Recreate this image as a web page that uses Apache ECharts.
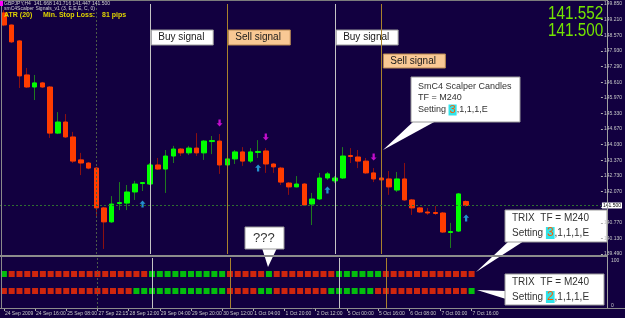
<!DOCTYPE html>
<html>
<head>
<meta charset="utf-8">
<script src="https://cdn.jsdelivr.net/npm/echarts@6/dist/echarts.min.js"></script>
<style>
html, body { margin: 0; padding: 0; background: #120040; }
#chart { width: 625px; height: 318px; }
</style>
</head>
<body>
<div id="chart"></div>
<script>
// GBPJPY H4 candles
const opens = [149.48,148.98,148.32,146.91,146.41,146.58,146.41,144.50,144.96,144.34,
  143.39,143.26,143.05,141.40,140.82,141.58,141.60,142.06,142.41,142.39,
  143.18,143.01,143.55,143.84,143.68,143.88,143.68,144.15,144.17,143.18,
  143.43,143.72,143.34,143.70,143.76,143.22,143.05,142.43,142.27,142.39,
  141.56,141.77,142.64,142.52,142.64,143.57,143.51,143.34,142.85,142.64,
  142.60,142.14,142.60,141.73,141.40,141.23,141.21,141.19,140.38,140.44,
  141.668];
const highs = [149.60,149.00,148.35,147.20,146.91,146.62,146.45,145.37,145.29,144.55,
  143.68,143.30,143.10,141.44,141.89,142.47,142.35,142.52,142.47,143.26,
  143.47,143.80,143.97,143.88,143.97,144.50,144.21,144.38,144.46,143.68,
  143.80,143.92,143.88,144.21,143.88,143.26,143.10,142.47,142.72,142.43,
  142.02,142.85,142.89,142.72,143.92,143.88,143.80,143.47,143.05,142.93,
  142.93,142.89,143.26,141.77,141.44,141.40,141.48,141.23,140.78,142.02,
  141.716];
const lows = [148.93,148.23,146.37,146.37,145.87,146.37,144.30,144.46,144.30,143.26,
  142.76,143.00,141.02,139.70,140.78,141.31,141.31,141.73,142.10,142.35,
  142.97,142.02,143.26,143.55,143.59,143.55,143.39,143.63,142.81,142.89,
  143.22,143.14,143.26,143.47,142.85,142.85,142.35,141.94,142.25,141.48,
  140.69,141.73,142.56,142.43,142.60,143.26,143.05,142.81,142.47,141.98,
  141.94,142.06,141.69,141.11,141.19,141.11,141.11,140.36,139.74,140.40,
  141.447];
const closes = [148.98,148.28,146.87,146.41,146.58,146.41,144.50,144.96,144.34,143.34,
  143.26,143.05,141.40,140.82,141.56,141.62,142.06,142.39,142.45,143.18,
  143.01,143.55,143.84,143.68,143.88,143.68,144.17,144.19,143.18,143.43,
  143.72,143.34,143.72,143.74,143.22,143.10,142.47,142.27,142.39,141.52,
  141.77,142.64,142.81,142.64,143.55,143.53,143.34,142.85,142.60,142.56,
  142.27,142.60,141.73,141.40,141.23,141.19,141.17,140.40,140.42,141.98,
  141.500];

// TRIX colour rows: 1 = up (green), 0 = down (red)
const trix3 = [1,0,0,0,0,0,0,0,0,0, 0,0,0,0,0,0,0,0,0,1, 1,1,1,1,1,1,1,1,1,0,
  0,0,0,0,1,0,0,0,0,0, 0,0,0,1,1,1,1,1,1,0, 0,0,0,0,0,0,0,0,0,0, 0];
const trix2 = [0,0,0,0,0,0,0,0,0,0, 0,0,0,0,0,0,0,1,1,1, 1,1,1,1,1,1,1,1,1,0,
  0,0,0,1,1,0,0,0,0,0, 0,0,1,1,1,1,1,1,0,0, 0,0,0,0,0,0,0,0,0,0, 1];

// scalper arrows
const sellArrowIdx = [28, 34, 48];
const sellArrowPrice = [144.92, 144.34, 143.51];
const buyArrowIdx = [18, 33, 42, 60];
const buyArrowPrice = [141.56, 143.05, 142.14, 140.98];

// vertical signal lines
const buyLineIdx = [19, 43];
const sellLineIdx = [29, 49];
const weekSepIdx = [12];

const dateLabels = ['24 Sep 2009','24 Sep 16:00','25 Sep 08:00','27 Sep 22:15','28 Sep 12:00',
  '29 Sep 04:00','29 Sep 20:00','30 Sep 12:00','1 Oct 04:00','1 Oct 20:00','2 Oct 12:00',
  '5 Oct 00:00','5 Oct 16:00','6 Oct 08:00','7 Oct 00:00','7 Oct 16:00'];
const priceTicks = ['139.490','140.130','140.770','','142.070','142.730','143.370','144.030',
  '144.670','145.330','145.970','146.610','147.290','147.930','148.570','149.210','149.850'];
const bidPrice = 141.500;
const askPrice = 141.552;

const yMin = 139.49, yStep = 0.6475, yMax = 149.85;
const slotCount = 78;
const slots = [];
for (let i = 0; i < slotCount; i++) slots.push(String(i));

const wickData = opens.map((o, i) => [o, closes[i], lows[i], highs[i]]);
const bodyData = opens.map((o, i) => [o, closes[i], Math.min(o, closes[i]), Math.max(o, closes[i])]);
const row3 = 68, row2 = 34;
const FONT = 'Liberation Sans';

const vLine = (idx, color, type) => ({ xAxis: idx, lineStyle: { color: color, type: type, width: 1 } });
const vLines = [].concat(
  weekSepIdx.map(i => vLine(i, '#4c5a48', [2, 2])),
  buyLineIdx.map(i => vLine(i, '#c4c4c4', 'solid')),
  sellLineIdx.map(i => vLine(i, '#a8822c', 'solid'))
);

const chart = echarts.init(document.getElementById('chart'));
const option = {
  backgroundColor: '#120040',
  animation: false,
  grid: [
    { left: -3, right: 17, top: 4, bottom: 64 },
    { left: -3, right: 17, top: 258, bottom: 10 }
  ],
  xAxis: [
    { type: 'category', data: slots, gridIndex: 0, show: false },
    {
      type: 'category', data: slots, gridIndex: 1,
      axisLine: { show: false },
      axisTick: { show: true, alignWithLabel: true, length: 3, lineStyle: { color: '#b0b0b0' },
        interval: (i) => i % 4 === 0 && i <= 60 },
      axisLabel: {
        interval: (i) => i % 4 === 0 && i <= 60,
        formatter: (v, i) => dateLabels[i / 4] || '',
        align: 'left', margin: 3, fontSize: 5, color: '#c8c8c8', fontFamily: FONT,
        padding: [0, 0, 0, 1]
      }
    }
  ],
  yAxis: [
    {
      type: 'value', gridIndex: 0, position: 'right', min: yMin, max: yMax, interval: yStep,
      axisLine: { show: false },
      axisTick: { show: true, length: 2, lineStyle: { color: '#b0b0b0' } },
      splitLine: { show: false },
      axisLabel: {
        margin: 3, fontSize: 5, color: '#c8c8c8', fontFamily: FONT,
        formatter: (v) => priceTicks[Math.round((v - yMin) / yStep)] || ''
      }
    },
    {
      type: 'value', gridIndex: 1, position: 'right', min: 0, max: 100, interval: 100,
      axisLine: { show: false }, axisTick: { show: false }, splitLine: { show: false },
      axisLabel: { margin: 3, fontSize: 5, color: '#c8c8c8', fontFamily: FONT,
        verticalAlignMaxLabel: 'top', verticalAlignMinLabel: 'bottom' }
    }
  ],
  series: [
    {
      name: 'wicks', type: 'candlestick', xAxisIndex: 0, yAxisIndex: 0,
      data: wickData, barWidth: 1,
      itemStyle: { color: '#1f7a1f', color0: '#8c1010', borderColor: '#1f7a1f', borderColor0: '#8c1010', borderWidth: 1 },
      markLine: {
        silent: true, symbol: ['none', 'none'], label: { show: false },
        data: vLines
      }
    },
    {
      name: 'bodies', type: 'candlestick', xAxisIndex: 0, yAxisIndex: 0,
      data: bodyData, barWidth: 5,
      itemStyle: { color: '#00ff00', color0: '#ff3c00', borderColor: '#00ff00', borderColor0: '#ff3c00', borderWidth: 1 },
      markLine: {
        silent: true, symbol: ['none', 'none'],
        lineStyle: { color: '#2f6f2f', type: [2, 2], width: 1 },
        label: { show: true, position: 'end', distance: 1, formatter: bidPrice.toFixed(3),
          backgroundColor: '#ffffff', color: '#000', fontSize: 5, fontFamily: FONT, padding: [1, 1, 0, 1] },
        data: [{ yAxis: bidPrice }]
      }
    },
    {
      name: 'sell arrows', type: 'scatter', xAxisIndex: 0, yAxisIndex: 0,
      symbol: 'path://M2.5,0 L5.5,0 L5.5,5 L8,5 L4,9 L0,5 L2.5,5 Z', symbolSize: [6, 7],
      itemStyle: { color: '#f010f0' },
      data: sellArrowIdx.map((i, k) => [i, sellArrowPrice[k]])
    },
    {
      name: 'buy arrows', type: 'scatter', xAxisIndex: 0, yAxisIndex: 0,
      symbol: 'path://M4,0 L8,4 L5.5,4 L5.5,9 L2.5,9 L2.5,4 L0,4 Z', symbolSize: [6, 7],
      itemStyle: { color: '#28b4f0' },
      data: buyArrowIdx.map((i, k) => [i, buyArrowPrice[k]])
    },
    {
      name: 'TRIX 3', type: 'scatter', xAxisIndex: 1, yAxisIndex: 1,
      symbol: 'rect', symbolSize: 6,
      data: trix3.map((s, i) => ({ value: [i, row3], itemStyle: { color: s ? '#00ee00' : '#ff3000' } })),
      markLine: { silent: true, symbol: ['none', 'none'], label: { show: false }, data: vLines }
    },
    {
      name: 'TRIX 2', type: 'scatter', xAxisIndex: 1, yAxisIndex: 1,
      symbol: 'rect', symbolSize: 6,
      data: trix2.map((s, i) => ({ value: [i, row2], itemStyle: { color: s ? '#00ee00' : '#ff3000' } }))
    }
  ]
};
chart.setOption(option);

// annotations anchored on the signal lines
const xOf = (i) => chart.convertToPixel({ xAxisIndex: 0 }, i);
const line = (x1, y1, x2, y2, color, w) => ({ type: 'line', z: 50, silent: true,
  shape: { x1: x1, y1: y1, x2: x2, y2: y2 }, style: { stroke: color, lineWidth: w || 1 } });
const label = (x, y, w, h, text, fill, stroke) => ({
  type: 'group', z: 60, children: [
    { type: 'rect', shape: { x: x, y: y, width: w, height: h }, style: { fill: fill, stroke: stroke, lineWidth: 1 } },
    { type: 'text', x: x + 7, y: y + h / 2, style: { text: text, font: '10px ' + FONT, fill: '#1a1a1a', textVerticalAlign: 'middle' } }
  ]
});
const callout = (box, tail, lines, size) => ({
  type: 'group', z: 70, children: [
    { type: 'polygon', shape: { points: tail }, style: { fill: '#ffffff' } },
    { type: 'rect', shape: box, style: { fill: '#ffffff', stroke: '#9a9a9a', lineWidth: 1 } }
  ].concat(lines.map(l => ({
    type: 'text', x: l[0], y: l[1],
    style: { text: l[2], font: size + 'px ' + FONT, fill: '#333333', textVerticalAlign: 'middle',
      rich: { h: { backgroundColor: '#30e4ea', fill: '#ff5a00', font: (size + 2) + 'px ' + FONT, padding: [0, 1, 0, 1] } } }
  })))
});

const b1 = xOf(buyLineIdx[0]), s1 = xOf(sellLineIdx[0]), b2 = xOf(buyLineIdx[1]), s2 = xOf(sellLineIdx[1]);
const graphics = [
  line(0, 0.5, 608, 0.5, '#7c7c7c'),
  line(1.5, 0, 1.5, 308, '#8a8a8a'),
  line(607.5, 0, 607.5, 309, '#a0a0a0'),
  line(0, 256, 608, 256, '#8c8c8c', 2),
  line(0, 308.5, 625, 308.5, '#8c8c8c'),
  { type: 'rect', z: 55, shape: { x: 0, y: 1, width: 3, height: 5 }, style: { fill: '#ff00ff' } },
  { type: 'text', z: 55, x: 4, y: 4, style: { text: 'GBPJPY,H4  141.668 141.716 141.447 141.500', font: '5px ' + FONT, fill: '#d0d0d0', textVerticalAlign: 'middle' } },
  { type: 'text', z: 55, x: 4, y: 9, style: { text: 'smC4Scalper Signals_v1 (3, E,E,E, C, 0)', font: '5px ' + FONT, fill: '#d0d0d0', textVerticalAlign: 'middle' } },
  { type: 'text', z: 55, x: 4, y: 15, style: { text: 'ATR (20)', font: 'bold 7px ' + FONT, fill: '#e0d400', textVerticalAlign: 'middle' } },
  { type: 'text', z: 55, x: 43, y: 15, style: { text: 'Min. Stop Loss:', font: 'bold 7px ' + FONT, fill: '#e0d400', textVerticalAlign: 'middle' } },
  { type: 'text', z: 55, x: 102, y: 15, style: { text: '81 pips', font: 'bold 7px ' + FONT, fill: '#e0d400', textVerticalAlign: 'middle' } },
  { type: 'text', z: 55, x: 548, y: 5, scaleX: 0.85, style: { text: askPrice.toFixed(3), font: '18px ' + FONT, fill: '#74e400' } },
  { type: 'text', z: 55, x: 548, y: 22, scaleX: 0.85, style: { text: bidPrice.toFixed(3), font: '18px ' + FONT, fill: '#74e400' } },
  label(b1 + 1, 30, 62, 15, 'Buy signal', '#ffffff', '#9a9a9a'),
  label(s1 + 1, 30, 62, 15, 'Sell signal', '#f9c894', '#b88850'),
  label(b2 + 1, 30, 62, 15, 'Buy signal', '#ffffff', '#9a9a9a'),
  label(s2 + 2, 54, 62, 14, 'Sell signal', '#f9c894', '#b88850'),
  callout({ x: 411, y: 77, width: 109, height: 45 }, [[414, 121], [436, 121], [383, 150]],
    [[418, 87, 'SmC4 Scalper Candles'], [418, 98, 'TF = M240'], [418, 110, 'Setting {h|3},1,1,1,E']], 9),
  callout({ x: 245, y: 227, width: 39, height: 22 }, [[262, 248], [277, 248], [268, 267]],
    [[253, 238, '???']], 13),
  callout({ x: 505, y: 210, width: 102, height: 32 }, [[509, 241], [524, 241], [476, 272]],
    [[512, 218, 'TRIX  TF = M240'], [512, 233, 'Setting {h|3},1,1,1,E']], 10),
  callout({ x: 505, y: 274, width: 99, height: 31 }, [[506, 291], [506, 299], [477, 290]],
    [[512, 282, 'TRIX  TF = M240'], [512, 297, 'Setting {h|2},1,1,1,E']], 10)
];
chart.setOption({ graphic: graphics });
</script>
</body>
</html>
